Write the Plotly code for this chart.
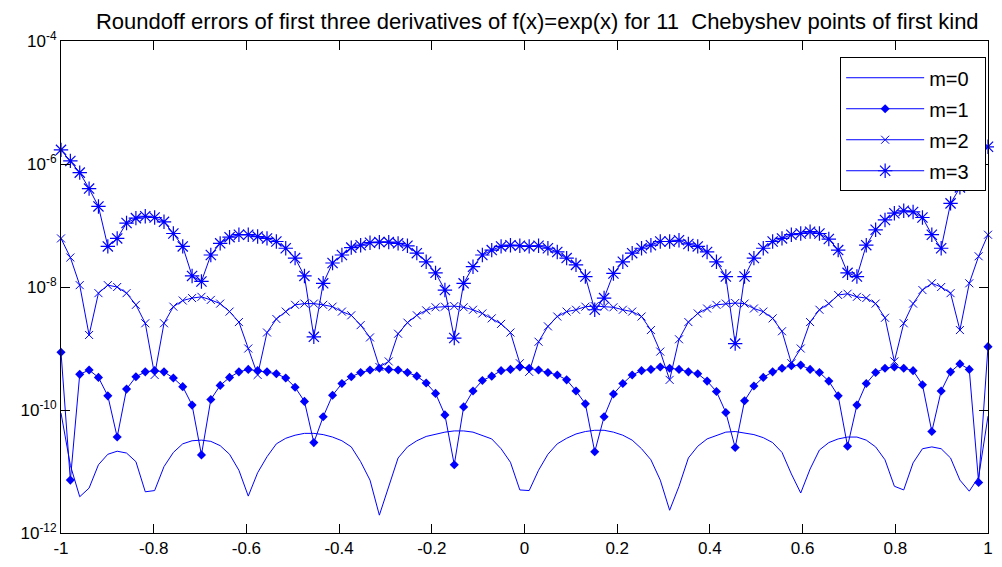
import numpy as np
import plotly.graph_objects as go

# sample grid: 100 equispaced evaluation points on [-1, 1]
x = np.linspace(-1, 1, 100)

# log10 of the roundoff error
log_err_m0 = [-10.05, -10.90, -11.41, -11.27, -10.89, -10.72, -10.67, -10.70, -10.84, -11.33,
              -11.31, -10.92, -10.69, -10.55, -10.50, -10.49, -10.51, -10.58, -10.72, -10.98,
              -11.40, -11.02, -10.76, -10.55, -10.46, -10.41, -10.38, -10.38, -10.40, -10.44,
              -10.50, -10.60, -10.84, -11.14, -11.71, -11.24, -10.78, -10.60, -10.50, -10.43,
              -10.39, -10.36, -10.34, -10.34, -10.36, -10.41, -10.47, -10.63, -10.85, -11.30,
              -11.31, -10.98, -10.72, -10.55, -10.46, -10.39, -10.35, -10.33, -10.33, -10.36,
              -10.41, -10.49, -10.63, -10.81, -11.14, -11.63, -11.24, -10.78, -10.59, -10.47,
              -10.41, -10.36, -10.35, -10.37, -10.40, -10.45, -10.53, -10.69, -11.04, -11.35,
              -10.96, -10.65, -10.53, -10.47, -10.44, -10.44, -10.49, -10.60, -10.81, -11.24,
              -11.30, -10.86, -10.63, -10.60, -10.63, -10.78, -11.14, -11.32, -11.09, -10.10]

log_err_m1 = [-9.06, -11.14, -9.42, -9.35, -9.47, -9.77, -10.44, -9.66, -9.46, -9.38,
              -9.36, -9.38, -9.48, -9.62, -9.92, -10.73, -9.83, -9.60, -9.47, -9.38,
              -9.34, -9.36, -9.38, -9.41, -9.48, -9.63, -9.86, -10.53, -10.11, -9.76,
              -9.57, -9.46, -9.39, -9.35, -9.32, -9.34, -9.35, -9.39, -9.45, -9.56,
              -9.73, -10.08, -10.89, -9.95, -9.69, -9.52, -9.45, -9.36, -9.34, -9.30,
              -9.32, -9.35, -9.39, -9.43, -9.51, -9.69, -9.90, -10.68, -10.11, -9.74,
              -9.57, -9.43, -9.36, -9.34, -9.30, -9.32, -9.34, -9.38, -9.41, -9.53,
              -9.70, -10.04, -10.61, -9.85, -9.61, -9.47, -9.38, -9.32, -9.28, -9.27,
              -9.34, -9.39, -9.53, -9.77, -10.59, -9.92, -9.57, -9.39, -9.32, -9.30,
              -9.32, -9.36, -9.59, -10.35, -9.69, -9.38, -9.25, -9.34, -11.18, -8.97]

log_err_m2 = [-7.21, -7.52, -7.97, -8.78, -8.10, -7.97, -8.00, -8.10, -8.29, -8.59,
              -9.43, -8.59, -8.32, -8.22, -8.18, -8.16, -8.21, -8.27, -8.40, -8.57,
              -9.00, -9.43, -8.74, -8.52, -8.40, -8.29, -8.27, -8.27, -8.29, -8.32,
              -8.40, -8.46, -8.62, -8.82, -9.30, -9.21, -8.76, -8.58, -8.46, -8.38,
              -8.33, -8.32, -8.31, -8.33, -8.37, -8.43, -8.51, -8.60, -8.74, -9.24,
              -9.38, -8.89, -8.64, -8.48, -8.40, -8.37, -8.32, -8.31, -8.32, -8.33,
              -8.37, -8.40, -8.48, -8.70, -9.05, -9.51, -8.85, -8.57, -8.43, -8.35,
              -8.29, -8.27, -8.26, -8.27, -8.35, -8.40, -8.51, -8.72, -9.24, -9.00,
              -8.57, -8.37, -8.27, -8.13, -8.11, -8.16, -8.18, -8.27, -8.50, -9.21,
              -8.59, -8.27, -8.05, -7.94, -8.00, -8.10, -8.70, -7.94, -7.50, -7.15]

log_err_m3 = [-5.77, -5.95, -6.14, -6.40, -6.69, -7.34, -7.21, -6.96, -6.88, -6.85,
              -6.87, -6.94, -7.13, -7.34, -7.82, -7.91, -7.48, -7.29, -7.19, -7.15,
              -7.15, -7.18, -7.21, -7.26, -7.37, -7.53, -7.82, -8.81, -7.94, -7.61,
              -7.48, -7.36, -7.32, -7.28, -7.27, -7.27, -7.29, -7.33, -7.45, -7.59,
              -7.77, -8.05, -8.83, -7.94, -7.67, -7.48, -7.40, -7.34, -7.32, -7.33,
              -7.34, -7.33, -7.37, -7.43, -7.53, -7.64, -7.83, -8.37, -8.18, -7.78,
              -7.59, -7.45, -7.37, -7.32, -7.26, -7.26, -7.24, -7.30, -7.34, -7.43,
              -7.59, -7.83, -8.92, -7.83, -7.53, -7.37, -7.26, -7.21, -7.15, -7.13,
              -7.10, -7.13, -7.22, -7.40, -7.77, -7.83, -7.32, -7.07, -6.91, -6.80,
              -6.76, -6.78, -6.87, -7.15, -7.37, -6.64, -6.38, -6.13, -5.92, -5.72]

series_names = ["m=0", "m=1", "m=2", "m=3"]
x_tick_vals = [-1, -0.8, -0.6, -0.4, -0.2, 0, 0.2, 0.4, 0.6, 0.8, 1]
x_tick_text = ["-1", "-0.8", "-0.6", "-0.4", "-0.2", "0", "0.2", "0.4", "0.6", "0.8", "1"]
y_tick_vals = [1e-12, 1e-10, 1e-8, 1e-6, 1e-4]
y_tick_text = ["10<sup>-12</sup>", "10<sup>-10</sup>", "10<sup>-8</sup>", "10<sup>-6</sup>", "10<sup>-4</sup>"]

BLUE = "#0000ff"
FONT = "Liberation Sans, Arial, sans-serif"
styles = [
    dict(mode="lines", marker=None),
    dict(mode="lines+markers", marker=dict(symbol="diamond", size=7, color=BLUE)),
    dict(mode="lines+markers", marker=dict(symbol="x-thin-open", size=8, color=BLUE,
                                           line=dict(color=BLUE, width=1))),
    dict(mode="lines+markers", marker=dict(symbol="asterisk-open", size=12, color=BLUE,
                                           line=dict(color=BLUE, width=1.2))),
]

fig = go.Figure()
for name, logs, st in zip(series_names, [log_err_m0, log_err_m1, log_err_m2, log_err_m3], styles):
    kw = dict(x=x, y=10 ** np.array(logs), name=name + "\u00a0\u00a0", mode=st["mode"],
              line=dict(color=BLUE, width=1), legendgroup=name, cliponaxis=False)
    if st["marker"] is not None:
        kw["marker"] = st["marker"]
    fig.add_trace(go.Scatter(**kw))

axis_common = dict(showline=True, linecolor="black", linewidth=1, mirror="ticks",
                   ticks="inside", ticklen=9, tickcolor="black", showgrid=False,
                   zeroline=False, ticklabeloverflow="allow",
                   tickfont=dict(family=FONT, size=17, color="black"))

# the page body has an 8px margin, so the figure is sized to fit the 1002x567 window
fig.update_layout(
    width=994, height=559,
    margin=dict(l=53, r=9, t=33, b=34),
    paper_bgcolor="white", plot_bgcolor="white",
    title=dict(text="Roundoff errors of first three derivatives of f(x)=exp(x) for 11\u00a0 Chebyshev points of first kind",
               x=0.5325, xanchor="center", y=0.9767, yanchor="middle", yref="container",
               font=dict(family=FONT, size=22, color="black")),
    xaxis=dict(range=[-1, 1], tickvals=x_tick_vals, ticktext=x_tick_text, **axis_common),
    yaxis=dict(type="log", range=[-12, -4], tickvals=y_tick_vals, ticktext=y_tick_text, **axis_common),
    legend=dict(x=0.998, xanchor="right", y=0.967, yanchor="top",
                bgcolor="white", bordercolor="black", borderwidth=1,
                font=dict(family=FONT, size=20, color="black"),
                itemwidth=78, traceorder="grouped", tracegroupgap=2),
    showlegend=True,
)

fig.write_html("out.html")
